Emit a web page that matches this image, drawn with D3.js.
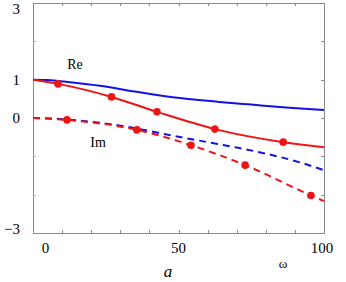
<!DOCTYPE html>
<html>
<head>
<meta charset="utf-8">
<script src="https://cdn.jsdelivr.net/npm/d3@7"></script>
<style>
  body { margin: 0; background: #fff; }
</style>
</head>
<body>
<div id="chart"></div>
<script>
// 曲線資料 (x: 0..100, 讀自圖片)
var reBlue = [[0, 1], [5, 0.99], [12, 0.94], [23, 0.84], [35, 0.69], [48, 0.54], [64, 0.42], [75, 0.35], [88, 0.27], [100, 0.21]];
var reRed = [[0, 1], [8.6, 0.89], [27, 0.55], [42.6, 0.16], [62.5, -0.29], [86, -0.63], [100, -0.76]];
var reRedDots = [[8.6, 0.89], [27, 0.55], [42.6, 0.16], [62.5, -0.29], [86, -0.63]];
var imBlue = [[0, 0], [10, -0.03], [20, -0.1], [30, -0.2], [40, -0.34], [50, -0.49], [60, -0.63], [70, -0.77], [80, -0.93], [90, -1.12], [100, -1.36]];
var imRed = [[0, 0], [11.7, -0.05], [35.7, -0.31], [54.3, -0.71], [72.9, -1.23], [95.5, -2.02], [100, -2.17]];
var imRedDots = [[11.7, -0.05], [35.7, -0.31], [54.3, -0.71], [72.9, -1.23], [95.5, -2.02]];

// 刻度
var xTicks = [10, 20, 30, 40, 50, 60, 70, 80, 90];
var yTicks = [-2, -1, 0, 1, 2];
var xLabelVals = [4.3, 50, 99.3];
var xLabelText = ["0", "50", "100"];
var yLabelVals = [2.85, 1, 0, -2.9];
var yLabelText = ["3", "1", "0", "\u22123"];

var W = 346, H = 282;
var margin = { top: 3, right: 22, bottom: 49, left: 33 };
var serif = "'Liberation Serif', 'Times New Roman', serif";

var svg = d3.select("#chart").append("svg")
    .attr("width", W)
    .attr("height", H)
    .attr("font-family", serif);

var x = d3.scaleLinear().domain([0, 100]).range([margin.left, W - margin.right]);
var y = d3.scaleLinear().domain([-3, 3]).range([H - margin.bottom, margin.top]);

var blue = "#1212e6", red = "#ee1414";

// 外框
svg.append("rect")
    .attr("x", x(0) + 0.5).attr("y", y(3) + 0.5)
    .attr("width", x(100) - x(0)).attr("height", y(-3) - y(3))
    .attr("fill", "none").attr("stroke", "#8a8a8a").attr("stroke-width", 1);

// 內向刻度
var tl = 3;
xTicks.forEach(function (t) {
    var px = Math.round(x(t)) + 0.5;
    svg.append("line").attr("x1", px).attr("x2", px).attr("y1", y(-3)).attr("y2", y(-3) - tl).attr("stroke", "#8a8a8a");
    svg.append("line").attr("x1", px).attr("x2", px).attr("y1", y(3)).attr("y2", y(3) + tl).attr("stroke", "#8a8a8a");
});
yTicks.forEach(function (t) {
    var py = Math.round(y(t)) + 0.5;
    svg.append("line").attr("x1", x(0)).attr("x2", x(0) + tl).attr("y1", py).attr("y2", py).attr("stroke", "#b0b0b0");
    svg.append("line").attr("x1", x(100)).attr("x2", x(100) - tl).attr("y1", py).attr("y2", py).attr("stroke", "#8a8a8a");
});

// 刻度文字
svg.selectAll(".xl").data(xLabelVals).enter().append("text")
    .attr("x", function (d) { return x(d); })
    .attr("y", 253)
    .attr("text-anchor", "middle")
    .attr("font-size", 15)
    .text(function (d, i) { return xLabelText[i]; });

svg.selectAll(".yl").data(yLabelVals).enter().append("text")
    .attr("x", 20)
    .attr("y", function (d) { return y(d); })
    .attr("dy", "0.35em")
    .attr("text-anchor", "end")
    .attr("font-size", 15)
    .text(function (d, i) { return yLabelText[i]; });

// 曲線
var line = d3.line()
    .x(function (d) { return x(d[0]); })
    .y(function (d) { return y(d[1]); })
    .curve(d3.curveMonotoneX);

function drawLine(data, color, dash) {
    svg.append("path")
        .datum(data)
        .attr("d", line)
        .attr("fill", "none")
        .attr("stroke", color)
        .attr("stroke-width", 2)
        .attr("stroke-dasharray", dash || null);
}

drawLine(reBlue, blue);
drawLine(imBlue, blue, "7,5");
drawLine(reRed, red);
drawLine(imRed, red, "7,5");

function drawDots(data) {
    svg.append("g").selectAll("circle").data(data).enter().append("circle")
        .attr("cx", function (d) { return x(d[0]); })
        .attr("cy", function (d) { return y(d[1]); })
        .attr("r", 3.8)
        .attr("fill", red);
}
drawDots(reRedDots);
drawDots(imRedDots);

// 標籤
svg.append("text").attr("x", 75).attr("y", 69).attr("text-anchor", "middle").attr("font-size", 14).text("Re");
svg.append("text").attr("x", 98).attr("y", 147).attr("text-anchor", "middle").attr("font-size", 14).text("Im");
svg.append("text").attr("x", 168).attr("y", 277).attr("text-anchor", "middle")
    .attr("font-size", 17).attr("font-style", "italic").text("a");
svg.append("text").attr("x", 283).attr("y", 268).attr("text-anchor", "middle").attr("font-size", 13).text("\u03c9");
</script>
</body>
</html>
